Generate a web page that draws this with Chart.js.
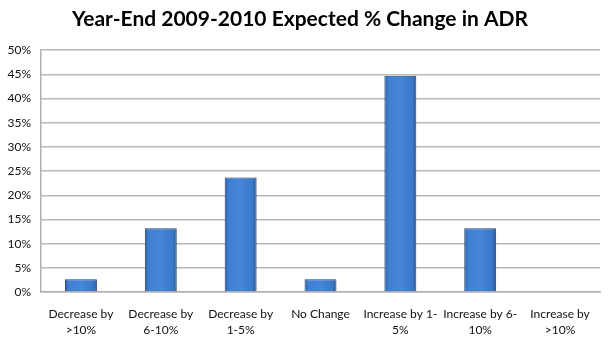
<!DOCTYPE html>
<html>
<head>
<meta charset="utf-8">
<script src="https://cdn.jsdelivr.net/npm/chart.js@4.4.1/dist/chart.umd.min.js"></script>
<style>
  html, body { margin: 0; padding: 0; background: #fff; }
  #wrap { width: 611px; height: 345px; }
</style>
</head>
<body>
<div id="wrap"><canvas id="myChart" width="611" height="345"></canvas></div>
<script>
// values
const categories = [
  ["Decrease by", ">10%"],
  ["Decrease by", "6-10%"],
  ["Decrease by", "1-5%"],
  ["No Change"],
  ["Increase by 1-", "5%"],
  ["Increase by 6-", "10%"],
  ["Increase by", ">10%"]
];
const expectedChange = [2.63, 13.16, 23.68, 2.63, 44.74, 13.16, 0];
const yTicks = [0, 5, 10, 15, 20, 25, 30, 35, 40, 45, 50];

function barFill(ctx) {
  const chart = ctx.chart;
  const x = chart.scales.x;
  const area = chart.chartArea;
  if (!x || !area) return '#3c78c8';
  const cx = x.getPixelForValue(ctx.dataIndex);
  const w = (area.right - area.left) / categories.length * 0.4;
  const g = chart.ctx.createLinearGradient(cx - w / 2, 0, cx + w / 2, 0);
  g.addColorStop(0, '#2a5c9e');
  g.addColorStop(0.12, '#3f7fd2');
  g.addColorStop(0.5, '#4586d8');
  g.addColorStop(0.88, '#3a78c8');
  g.addColorStop(1, '#24528f');
  return g;
}

const ctx = document.getElementById('myChart').getContext('2d');
const chart = new Chart(ctx, {
  type: 'bar',
  data: {
    labels: categories,
    datasets: [{
      label: 'Expected % Change in ADR',
      data: expectedChange,
      backgroundColor: barFill,
      borderColor: '#1f4272',
      borderWidth: 1,
      barPercentage: 0.4,
      categoryPercentage: 1
    }]
  },
  options: {
    responsive: false,
    animation: false,
    layout: { padding: { left: 0, right: 11, top: 0, bottom: 0 } },
    plugins: {
      legend: { display: false },
      tooltip: { enabled: false },
      title: {
        display: true,
        text: 'Year-End 2009-2010 Expected % Change in ADR',
        color: '#000',
        font: { family: 'Lato', size: 21, weight: 'bold' },
        padding: { top: 7, bottom: 18 }
      }
    },
    scales: {
      x: {
        grid: { display: false, drawTicks: false },
        border: { display: true, color: '#b0b0b0', width: 1.5 },
        ticks: {
          color: '#111',
          font: { family: 'Lato', size: 12, lineHeight: 1.35 },
          padding: 14,
          maxRotation: 0,
          autoSkip: false
        },
        afterFit: s => { s.height = 53; }
      },
      y: {
        min: 0,
        max: 50,
        afterBuildTicks: s => { s.ticks = yTicks.map(v => ({ value: v })); },
        grid: { color: '#b8b8b8', lineWidth: 1.5, drawTicks: false },
        border: { display: true, color: '#b0b0b0', width: 1.5 },
        ticks: {
          color: '#111',
          font: { family: 'Lato', size: 12 },
          padding: 10,
          callback: v => v + '%'
        },
        afterFit: s => { s.width = 41; }
      }
    }
  }
});
</script>
</body>
</html>
